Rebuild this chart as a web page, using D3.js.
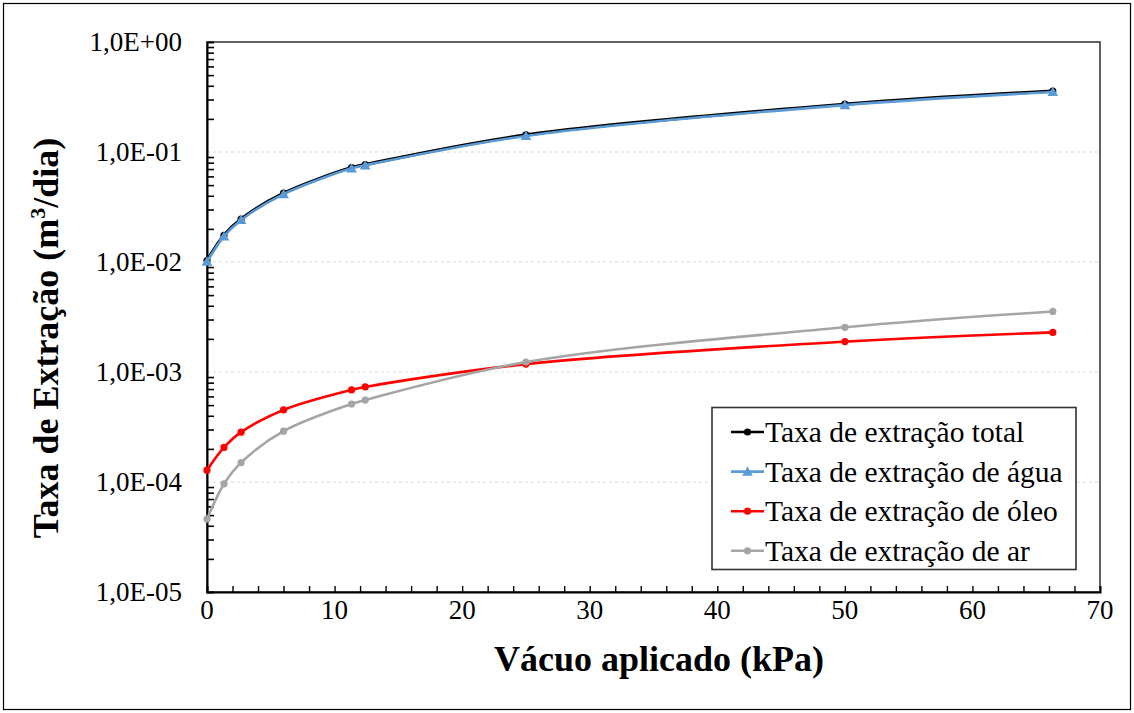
<!DOCTYPE html>
<html>
<head>
<meta charset="utf-8">
<script src="https://cdn.jsdelivr.net/npm/d3@7"></script>
<style>
  body { margin: 0; background: #fff; }
</style>
</head>
<body>
<svg id="chart" width="1134" height="713"></svg>
<script>
// Applied vacuum (kPa)
const vacuum = [0, 1.33, 2.67, 6.0, 11.33, 12.4, 25.0, 50.0, 66.3];
// Extraction rates (m3/day)
const totalRate = [0.0103, 0.0175, 0.0246, 0.0422, 0.0722, 0.0769, 0.143, 0.272, 0.358];
const waterRate = [0.0101, 0.0171, 0.0241, 0.0414, 0.0710, 0.0756, 0.140, 0.267, 0.351];
const oilRate   = [1.28e-4, 2.06e-4, 2.84e-4, 4.52e-4, 6.87e-4, 7.31e-4, 1.18e-3, 1.89e-3, 2.29e-3];
const airRate   = [4.6e-5, 9.6e-5, 1.50e-4, 2.90e-4, 5.12e-4, 5.56e-4, 1.23e-3, 2.55e-3, 3.55e-3];

const seriesNames = [
  "Taxa de extração total",
  "Taxa de extração de água",
  "Taxa de extração de óleo",
  "Taxa de extração de ar"
];
const xTicks = [0, 10, 20, 30, 40, 50, 60, 70];
const yTicks = [1, 1e-1, 1e-2, 1e-3, 1e-4, 1e-5];

const FONT = "'Liberation Serif', 'Times New Roman', Times, serif";

const seriesStyle = [
  { color: "#000000", width: 3.2, marker: "circle" },
  { color: "#5b9bd5", width: 2.6, marker: "triangle" },
  { color: "#ff0000", width: 2.6, marker: "circle" },
  { color: "#a5a5a5", width: 2.6, marker: "circle" }
];
const seriesValues = [totalRate, waterRate, oilRate, airRate];

const svg = d3.select("#chart").attr("font-family", FONT);
const W = 1134, H = 713;
const plot = { left: 207, right: 1100, top: 42, bottom: 592 };

// outer frame
svg.append("rect")
  .attr("x", 3.5).attr("y", 3.5)
  .attr("width", W - 7).attr("height", H - 7)
  .attr("fill", "#fff").attr("stroke", "#000").attr("stroke-width", 1.2);

const x = d3.scaleLinear().domain([0, 70]).range([plot.left, plot.right]);
const y = d3.scaleLog().domain([1e-5, 1]).range([plot.bottom, plot.top]);

// decade gridlines
svg.append("g").selectAll("line")
  .data(yTicks.filter(v => v < 1 && v > 1e-5))
  .join("line")
  .attr("x1", plot.left).attr("x2", plot.right)
  .attr("y1", d => y(d)).attr("y2", d => y(d))
  .attr("stroke", "#d9d9d9").attr("stroke-width", 1)
  .attr("stroke-dasharray", "3,3");

// plot frame (top / right)
svg.append("rect")
  .attr("x", plot.left).attr("y", plot.top)
  .attr("width", plot.right - plot.left).attr("height", plot.bottom - plot.top)
  .attr("fill", "none").attr("stroke", "#3a3a3a").attr("stroke-width", 1.6);

// y axis: minor ticks inside at 2..9 x 10^n
const minorY = [];
for (let e = -5; e < 0; e++) for (let m = 2; m <= 9; m++) minorY.push(m * Math.pow(10, e));
const yAxis = d3.axisLeft(y).tickValues(minorY).tickSize(-7).tickFormat("");
const gy = svg.append("g").attr("transform", `translate(${plot.left},0)`).call(yAxis);
gy.select(".domain").attr("stroke", "#000").attr("stroke-width", 2);
gy.selectAll(".tick line").attr("stroke", "#000").attr("stroke-width", 1.6);

// y tick labels
const fmtY = v => {
  const e = Math.round(Math.log10(v));
  return "1,0E" + (e >= 0 ? "+" : "-") + String(Math.abs(e)).padStart(2, "0");
};
svg.append("g").selectAll("text")
  .data(yTicks).join("text")
  .attr("x", 182).attr("y", d => y(d))
  .attr("dy", "0.35em")
  .attr("text-anchor", "end")
  .attr("font-size", 27)
  .attr("fill", "#000")
  .text(fmtY);

// x axis: minor ticks inside every 2 kPa
const minorX = d3.range(2, 70, 2);
const xAxis = d3.axisBottom(x).tickValues(minorX).tickSize(-6).tickFormat("");
const gx = svg.append("g").attr("transform", `translate(0,${plot.bottom})`).call(xAxis);
gx.select(".domain").attr("stroke", "#000").attr("stroke-width", 2);
gx.selectAll(".tick line").attr("stroke", "#000").attr("stroke-width", 1.4);

svg.append("g").selectAll("text")
  .data(xTicks).join("text")
  .attr("x", d => x(d)).attr("y", 619)
  .attr("text-anchor", "middle")
  .attr("font-size", 27)
  .attr("fill", "#000")
  .text(d => d);

// axis titles
svg.append("text")
  .attr("x", 659).attr("y", 671)
  .attr("text-anchor", "middle")
  .attr("font-size", 36).attr("font-weight", "bold")
  .text("Vácuo aplicado (kPa)");

const yt = svg.append("text")
  .attr("transform", `translate(58,338) rotate(-90)`)
  .attr("text-anchor", "middle")
  .attr("font-size", 36).attr("font-weight", "bold");
yt.append("tspan").text("Taxa de Extração (m");
yt.append("tspan").attr("font-size", 22).attr("dy", -13).text("3");
yt.append("tspan").attr("dy", 13).text("/dia)");

// series lines and markers
const line = d3.line()
  .x(d => x(d[0])).y(d => y(d[1]))
  .curve(d3.curveCatmullRom.alpha(0.5));

const triangle = d3.symbol().type(d3.symbolTriangle).size(50);

function drawMarker(g, style, cx, cy) {
  if (style.marker === "triangle") {
    g.append("path").attr("d", triangle())
      .attr("transform", `translate(${cx},${cy + 1})`)
      .attr("fill", style.color);
  } else {
    g.append("circle").attr("cx", cx).attr("cy", cy).attr("r", 3.6)
      .attr("fill", style.color);
  }
}

seriesValues.forEach((vals, i) => {
  const st = seriesStyle[i];
  const pts = vacuum.map((v, k) => [v, vals[k]]);
  const g = svg.append("g");
  g.append("path").datum(pts)
    .attr("d", line)
    .attr("fill", "none")
    .attr("stroke", st.color)
    .attr("stroke-width", st.width)
    .attr("stroke-linejoin", "round");
  pts.forEach(p => drawMarker(g, st, x(p[0]), y(p[1])));
});

// legend
const lg = svg.append("g");
lg.append("rect")
  .attr("x", 712).attr("y", 407.5)
  .attr("width", 364).attr("height", 162)
  .attr("fill", "#fff").attr("stroke", "#333").attr("stroke-width", 1.6);
seriesNames.forEach((name, i) => {
  const st = seriesStyle[i];
  const ry = 432 + i * 39.6;
  lg.append("line")
    .attr("x1", 731).attr("x2", 764)
    .attr("y1", ry).attr("y2", ry)
    .attr("stroke", st.color).attr("stroke-width", 2.6);
  drawMarker(lg, st, 747.5, ry);
  lg.append("text")
    .attr("x", 765).attr("y", ry + 10)
    .attr("font-size", 29.5)
    .attr("fill", "#000")
    .text(name);
});
</script>
</body>
</html>
